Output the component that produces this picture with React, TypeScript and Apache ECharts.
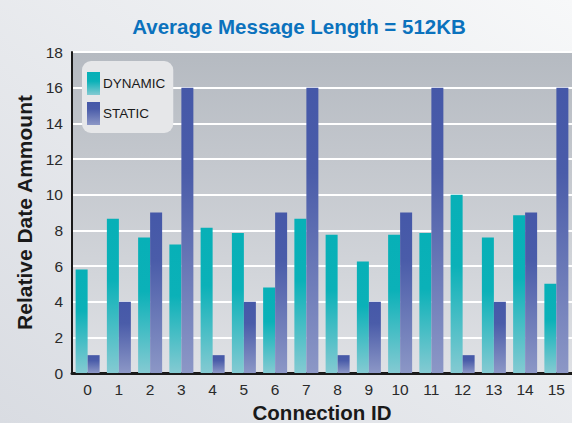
import React, { useEffect, useRef } from "react";
import * as echarts from "echarts";

const categories = ["0","1","2","3","4","5","6","7","8","9","10","11","12","13","14","15"];
const dynamicValues = [5.8, 8.65, 7.6, 7.2, 8.15, 7.85, 4.8, 8.65, 7.75, 6.25, 7.75, 7.85, 10.0, 7.6, 8.85, 5.0];
const staticValues = [1, 4, 9, 16, 1, 4, 9, 16, 1, 4, 9, 16, 1, 4, 9, 16];
const yTicks = { min: 0, max: 18, interval: 2 };

export default function App() {
  const ref = useRef<HTMLDivElement>(null);
  useEffect(() => {
    const chart = echarts.init(ref.current!, null, { renderer: "svg" });
    const G = echarts.graphic.LinearGradient;
    chart.setOption({
      animation: false,
      backgroundColor: new G(1, 0, 0, 1, [
        { offset: 0, color: "#f7f8f9" },
        { offset: 1, color: "#d9dce2" },
      ]),
      textStyle: { fontFamily: "Liberation Sans, Arial, sans-serif" },
      title: {
        text: "Average Message Length = 512KB",
        left: 294,
        textAlign: "center",
        top: 11,
        textStyle: { color: "#0b72bd", fontSize: 20.5, fontWeight: "bold", fontFamily: "Liberation Sans, Arial, sans-serif" },
      },
      legend: {
        orient: "vertical",
        left: 82,
        top: 61,
        padding: [11, 8, 8, 5],
        backgroundColor: "#e6e7e9",
        borderRadius: 9,
        itemWidth: 13,
        itemHeight: 23,
        itemGap: 7,
        icon: "rect",
        textStyle: { color: "#1a1a1a", fontSize: 13.5, padding: [0, 0, 0, -2] },
        data: ["DYNAMIC", "STATIC"],
      },
      grid: {
        left: 72,
        top: 52,
        right: 0,
        bottom: 50,
        outerBoundsMode: "none",
        containLabel: false,
        show: true,
        borderWidth: 0,
        backgroundColor: new G(0, 0, 0, 1, [
          { offset: 0, color: "#b5bac1" },
          { offset: 1, color: "#dfe1e5" },
        ]),
      },
      xAxis: {
        type: "category",
        data: categories,
        name: "Connection ID",
        nameLocation: "middle",
        nameGap: 27,
        nameTextStyle: { fontSize: 20.5, lineHeight: 20, fontWeight: "bold", color: "#1a1a1a" },
        axisLine: { lineStyle: { color: "#1a1a1a", width: 3 } },
        axisTick: { show: false },
        axisLabel: { fontSize: 15.5, color: "#2a2a2a", margin: 8 },
      },
      yAxis: {
        type: "value",
        min: yTicks.min,
        max: yTicks.max,
        interval: yTicks.interval,
        name: "Relative Date Ammount",
        nameLocation: "middle",
        nameGap: 34,
        nameTextStyle: { fontSize: 21, fontWeight: "bold", color: "#1a1a1a" },
        axisLine: { show: true, lineStyle: { color: "#1a1a1a", width: 2 } },
        axisTick: { show: false },
        axisLabel: { fontSize: 15.5, color: "#2a2a2a", margin: 9 },
        splitLine: { lineStyle: { color: "#ffffff", width: 2 } },
      },
      series: [
        {
          name: "DYNAMIC",
          type: "bar",
          data: dynamicValues,
          barWidth: 12,
          barGap: "0%",
          itemStyle: {
            color: new G(0, 0, 0, 1, [
              { offset: 0, color: "#07b0b7" },
              { offset: 0.4, color: "#0bb1b8" },
              { offset: 1, color: "#84cad2" },
            ]),
          },
        },
        {
          name: "STATIC",
          type: "bar",
          data: staticValues,
          barWidth: 12,
          itemStyle: {
            color: new G(0, 0, 0, 1, [
              { offset: 0, color: "#4558a8" },
              { offset: 0.3, color: "#4a5ca9" },
              { offset: 1, color: "#8c97c6" },
            ]),
          },
        },
      ],
    });
    return () => chart.dispose();
  }, []);
  return <div ref={ref} style={{ width: 572, height: 423, position: "absolute", left: 0, top: 0 }} />;
}
